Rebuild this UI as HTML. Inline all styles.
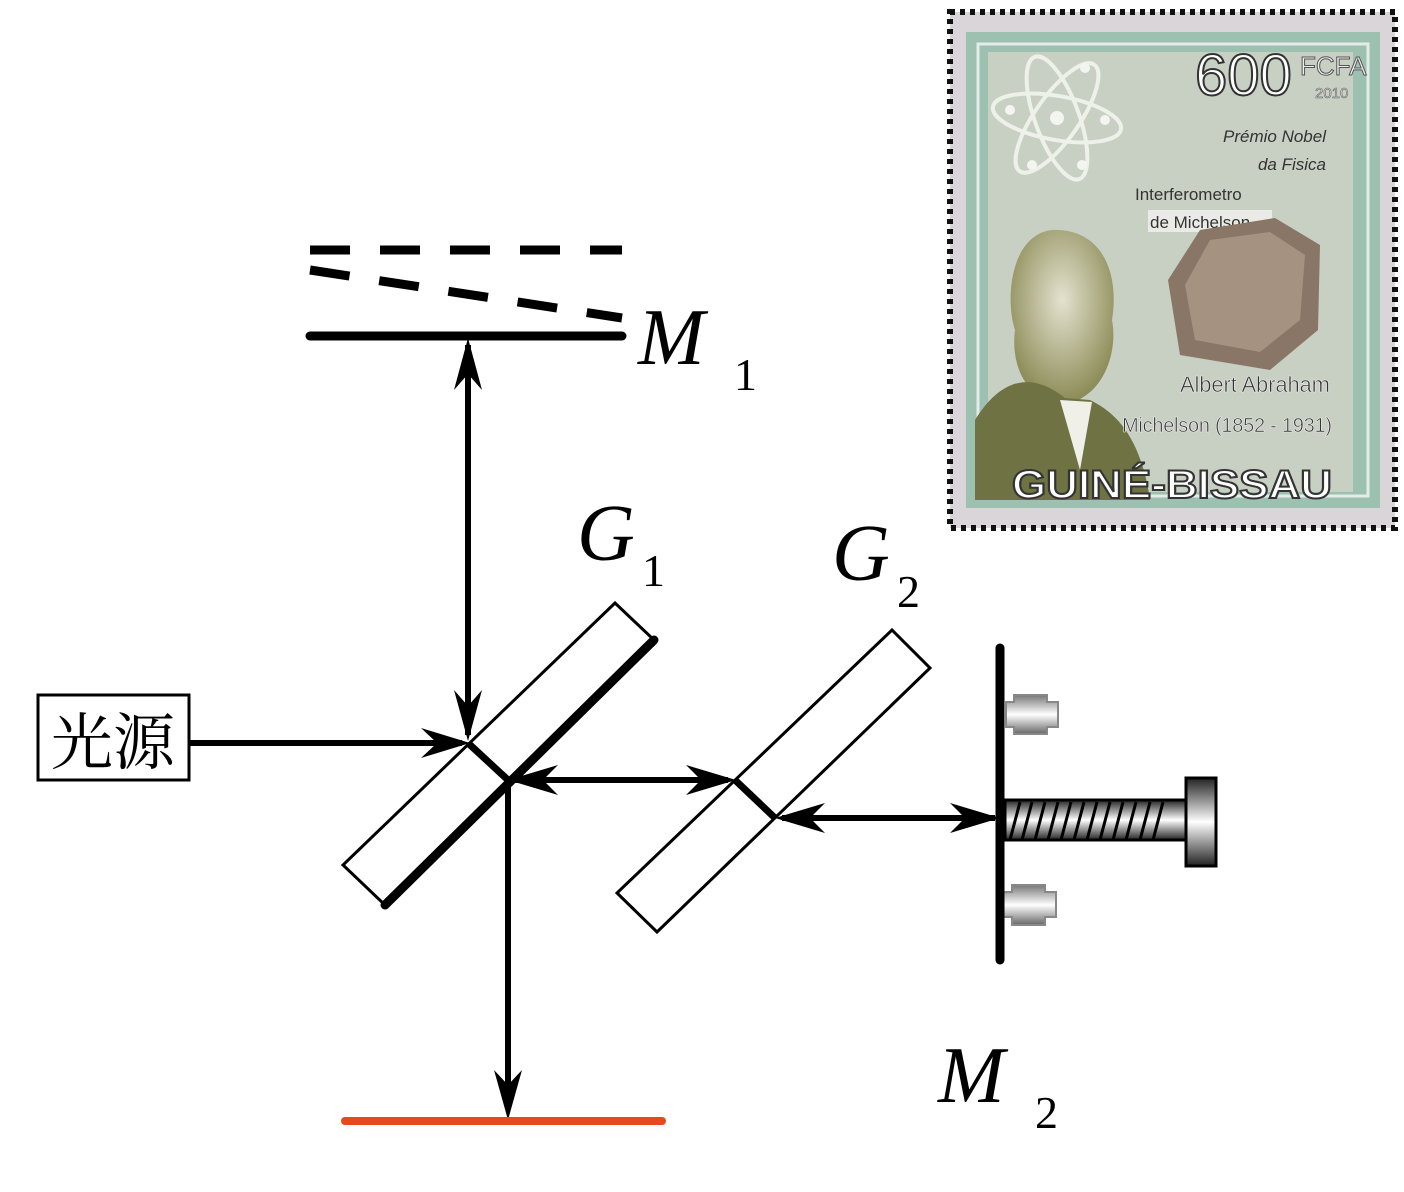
<!DOCTYPE html>
<html><head><meta charset="utf-8"><style>
html,body{margin:0;padding:0;background:#fff;}
body{width:1404px;height:1192px;position:relative;overflow:hidden;}
svg{position:absolute;left:0;top:0;}
</style></head><body>
<svg width="1404" height="1192" viewBox="0 0 1404 1192" xmlns="http://www.w3.org/2000/svg">
<defs>
<linearGradient id="mg" x1="0" y1="0" x2="0" y2="1">
<stop offset="0" stop-color="#222"/><stop offset="0.5" stop-color="#fff"/><stop offset="1" stop-color="#222"/>
</linearGradient>
<linearGradient id="pg" x1="0" y1="0" x2="0" y2="1">
<stop offset="0" stop-color="#777"/><stop offset="0.5" stop-color="#fff"/><stop offset="1" stop-color="#666"/>
</linearGradient>
<radialGradient id="face" cx="0.5" cy="0.4" r="0.6">
<stop offset="0" stop-color="#e4e2cf"/><stop offset="1" stop-color="#8a8a55"/>
</radialGradient>
</defs>

<!-- Stamp -->
<rect x="950" y="12" width="445" height="516" fill="#d9d5d8"/>
<rect x="950" y="12" width="445" height="516" fill="none" stroke="#111" stroke-width="6" stroke-dasharray="5 5"/>
<rect x="966" y="32" width="414" height="476" fill="#9cc1b1"/>
<rect x="978" y="44" width="390" height="452" fill="none" stroke="#e3ece6" stroke-width="3"/>
<rect x="988" y="52" width="365" height="440" fill="#c8d0c3"/>
<g fill="none" stroke="#eef0ea" stroke-width="4">
<ellipse cx="1057" cy="118" rx="65" ry="22" transform="rotate(10 1057 118)"/>
<ellipse cx="1057" cy="118" rx="65" ry="22" transform="rotate(70 1057 118)"/>
<ellipse cx="1057" cy="118" rx="65" ry="22" transform="rotate(-55 1057 118)"/>
</g>
<g fill="#f4f4f0"><circle cx="1057" cy="118" r="7"/><circle cx="1010" cy="110" r="5"/><circle cx="1105" cy="120" r="5"/><circle cx="1032" cy="165" r="5"/><circle cx="1082" cy="165" r="5"/><circle cx="1085" cy="68" r="5"/></g>
<text x="1195" y="95" font-family="Liberation Sans, sans-serif" font-size="58" fill="#fff" stroke="#333" stroke-width="2">600</text>
<text x="1300" y="75" font-family="Liberation Sans, sans-serif" font-size="26" fill="#eee" stroke="#555" stroke-width="1">FCFA</text>
<text x="1315" y="98" font-family="Liberation Sans, sans-serif" font-size="15" fill="#ddd" stroke="#666" stroke-width="0.6">2010</text>
<text x="1326" y="142" text-anchor="end" font-family="Liberation Sans, sans-serif" font-style="italic" font-size="17" fill="#333">Prémio Nobel</text>
<text x="1326" y="170" text-anchor="end" font-family="Liberation Sans, sans-serif" font-style="italic" font-size="17" fill="#333">da Fisica</text>
<text x="1135" y="200" font-family="Liberation Sans, sans-serif" font-size="17" fill="#333">Interferometro</text>
<rect x="1148" y="210" width="124" height="22" fill="#eaeae6"/>
<text x="1150" y="228" font-family="Liberation Sans, sans-serif" font-size="17" fill="#333">de Michelson</text>
<polygon points="1200,230 1275,218 1320,245 1318,330 1270,370 1180,355 1168,280" fill="#8a7666"/>
<polygon points="1210,240 1270,232 1305,255 1300,320 1260,352 1195,340 1185,285" fill="#a69280"/>
<path d="M1052 230 C1010 235 1005 300 1015 330 C1010 370 1030 400 1060 405 C1105 400 1118 350 1112 320 C1120 270 1100 228 1052 230Z" fill="url(#face)"/>
<path d="M975 500 L975 420 C1000 380 1030 370 1065 398 L1090 400 C1110 410 1140 430 1150 500Z" fill="#6f7242"/>
<polygon points="1060,400 1092,402 1080,470" fill="#f0f0e8"/>
<text x="1330" y="392" text-anchor="end" font-family="Liberation Sans, sans-serif" font-size="22" fill="#333" stroke="#eee" stroke-width="0.6" textLength="150">Albert Abraham</text>
<text x="1332" y="432" text-anchor="end" font-family="Liberation Sans, sans-serif" font-size="20" fill="#333" stroke="#eee" stroke-width="0.6" textLength="210">Michelson (1852 - 1931)</text>
<text x="1012" y="498" font-family="Liberation Sans, sans-serif" font-weight="bold" font-size="40" fill="#fff" stroke="#333" stroke-width="2" textLength="320" lengthAdjust="spacingAndGlyphs">GUINÉ-BISSAU</text>

<!-- M1 mirrors -->
<g stroke="#000" stroke-width="9">
<line x1="310" y1="250" x2="622" y2="250" stroke-dasharray="40 30"/>
<line x1="310" y1="270" x2="622" y2="318" stroke-dasharray="40 30"/>
</g>
<line x1="310" y1="336" x2="622" y2="336" stroke="#000" stroke-width="9" stroke-linecap="round"/>

<!-- Source box -->
<rect x="38" y="695" width="151" height="85" fill="#fff" stroke="#000" stroke-width="3"/>
<text x="113" y="764" text-anchor="middle" font-family="'Noto Serif CJK SC','Noto Sans CJK SC',serif" font-size="62">光源</text>

<!-- G1 and G2 plates -->
<polygon points="615,603 654,640 385,905 343,865" fill="#fff" stroke="#000" stroke-width="3"/>
<line x1="654" y1="640" x2="385" y2="905" stroke="#000" stroke-width="9" stroke-linecap="round"/>
<polygon points="892,630 930,668 657,932 617,893" fill="#fff" stroke="#000" stroke-width="3"/>

<!-- beams -->
<g stroke="#000" stroke-width="6" fill="none">
<line x1="189" y1="743" x2="462" y2="743"/>
<line x1="468" y1="345" x2="468" y2="735"/>
<line x1="468" y1="743" x2="508" y2="780" stroke-width="7"/>
<line x1="508" y1="780" x2="508" y2="1108"/>
<line x1="515" y1="780" x2="728" y2="780"/>
<line x1="735" y1="780" x2="775" y2="818" stroke-width="7"/>
<line x1="782" y1="818" x2="995" y2="818"/>
</g>
<g fill="#000">
<polygon points="470,743 421,728 437,743 421,758"/>
<polygon points="468,741 454,690 468,706 482,690"/>
<polygon points="468,338 454,390 468,374 482,390"/>
<polygon points="508,1120 494,1070 508,1085 522,1070"/>
<polygon points="508,780 558,765 543,780 558,795"/>
<polygon points="736,780 686,765 701,780 686,795"/>
<polygon points="775,818 825,803 810,818 825,833"/>
<polygon points="1000,818 950,803 965,818 950,833"/>
</g>

<!-- red screen -->
<line x1="345" y1="1121" x2="662" y2="1121" stroke="#e8481f" stroke-width="8" stroke-linecap="round"/>

<!-- M2 -->
<rect x="1005" y="800" width="183" height="40" fill="url(#mg)" stroke="#000" stroke-width="3"/>
<g stroke="#000" stroke-width="3">
<line x1="1010" y1="840" x2="1020" y2="802"/><line x1="1022" y1="840" x2="1032" y2="802"/>
<line x1="1035" y1="840" x2="1045" y2="802"/><line x1="1048" y1="840" x2="1058" y2="802"/>
<line x1="1061" y1="840" x2="1071" y2="802"/><line x1="1074" y1="840" x2="1084" y2="802"/>
<line x1="1087" y1="840" x2="1097" y2="802"/><line x1="1100" y1="840" x2="1110" y2="802"/>
<line x1="1113" y1="840" x2="1123" y2="802"/><line x1="1126" y1="840" x2="1136" y2="802"/>
<line x1="1140" y1="840" x2="1150" y2="802"/><line x1="1153" y1="840" x2="1163" y2="802"/>
</g>
<rect x="1186" y="778" width="30" height="88" fill="url(#mg)" stroke="#000" stroke-width="3"/>
<g stroke="#888" stroke-width="2" fill="url(#pg)">
<path d="M1014 695 H1047 V702 H1058 V727 H1047 V734 H1014 V727 H1006 V702 H1014Z"/>
<path d="M1012 885 H1045 V892 H1056 V917 H1045 V925 H1012 V917 H1003 V892 H1012Z"/>
</g>
<line x1="1000" y1="648" x2="1000" y2="960" stroke="#000" stroke-width="9" stroke-linecap="round"/>

<!-- labels -->
<g font-family="'Liberation Serif',serif" fill="#000">
<text x="638" y="364" font-style="italic" font-size="80">M</text>
<text x="734" y="390" font-size="46">1</text>
<text x="577" y="560" font-style="italic" font-size="80">G</text>
<text x="642" y="586" font-size="46">1</text>
<text x="832" y="580" font-style="italic" font-size="80">G</text>
<text x="897" y="607" font-size="46">2</text>
<text x="938" y="1102" font-style="italic" font-size="80">M</text>
<text x="1035" y="1128" font-size="46">2</text>
</g>
</svg>
</body></html>
